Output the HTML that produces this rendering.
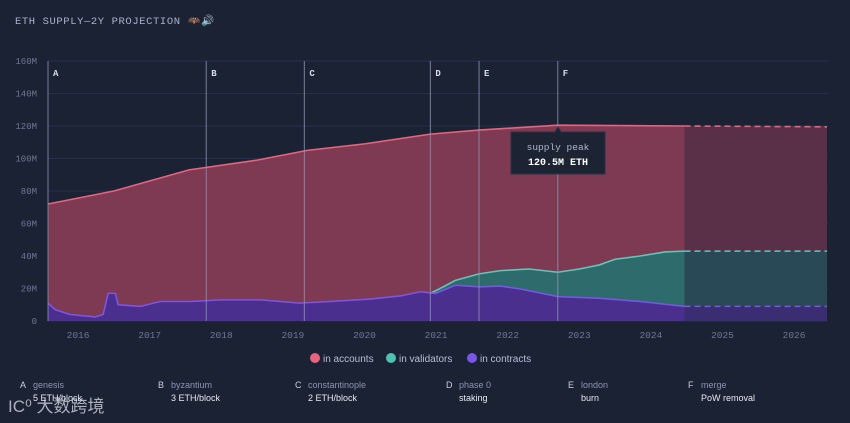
<!DOCTYPE html>
<html><head><meta charset="utf-8"><style>
body{margin:0;background:#1b2233;width:850px;height:423px;overflow:hidden;font-family:"Liberation Sans","Noto Sans CJK SC",sans-serif}
svg{display:block}
.mono{font-family:"Liberation Mono",monospace}
</style></head><body>
<svg id="c" width="850" height="423">
<text x="15" y="24" class="mono" font-size="10.5" fill="#a9b2d0" letter-spacing="0.6">ETH SUPPLY—2Y PROJECTION 🦇🔊</text>
<g id="grid"></g><g id="areas"></g><g id="ev"></g><g id="axes"></g>
<g id="tip">
<path d="M511 132 H555 L558 127 L561 132 H605 V174 H511 Z" fill="#1c2333" stroke="#2a3246"/>
<text x="558" y="150" text-anchor="middle" class="mono" font-size="9.5" fill="#aeb6cc">supply peak</text>
<text x="558" y="165" text-anchor="middle" class="mono" font-size="10" font-weight="bold" fill="#ffffff">120.5M ETH</text>
</g>
<g id="legend" font-size="10" fill="#b7bfd6">
<g><circle cx="315" cy="358" r="5" fill="#e8647e"/><text x="323" y="362">in accounts</text></g>
<g><circle cx="391" cy="358" r="5" fill="#4fc1b1"/><text x="399" y="362">in validators</text></g>
<g><circle cx="472" cy="358" r="5" fill="#7b55e8"/><text x="480" y="362">in contracts</text></g>
</g>
<g id="notes" font-size="9"></g>
<text x="8" y="412" font-size="17" fill="#cfd4df" opacity="0.8">IC⁰ 大数跨境</text>
</svg>
<script>
const yTicks=[0,20,40,60,80,100,120,140,160];
const yearTicks=[2016,2017,2018,2019,2020,2021,2022,2023,2024,2025,2026];
const supplyT=[2015.58,2016.5,2017.55,2018.5,2019.2,2020.0,2020.92,2021.6,2022.7,2024.47];
const supplyV=[72,80,93,99,105,109,115,117.5,120.5,120];
const projSupplyV=[120,119.5];
const valT=[2020.92,2021.1,2021.27,2021.6,2021.9,2022.3,2022.7,2023.0,2023.28,2023.5,2023.85,2024.2,2024.47];
const valV=[17,21,25,29,31,32,30,32,34.5,38,40,42.5,43];
const conT=[2015.58,2015.68,2015.89,2016.24,2016.35,2016.42,2016.52,2016.56,2016.87,2017.15,2017.57,2017.99,2018.55,2019.1,2019.52,2020.08,2020.5,2020.78,2020.99,2021.27,2021.6,2021.9,2022.18,2022.7,2023.28,2023.85,2024.47];
const conV=[11,7,4,2.5,4,17,17,10,9,12,12,13,13,11,12,13.5,15.4,18,17,22,21,21.5,19.7,15,14,12,9];
const projEnd=2026.46, projStart=2024.47;
const evT=[2015.58,2017.79,2019.16,2020.92,2021.6,2022.7];
const evL=['A','B','C','D','E','F'];
const evName=['genesis','byzantium','constantinople','phase 0','london','merge'];
const evDesc=['5 ETH/block','3 ETH/block','2 ETH/block','staking','burn','PoW removal'];
const X=t=>48+(t-2015.58)*71.6, Y=v=>321-v*1.625;
const NS='http://www.w3.org/2000/svg';
function mk(p,tag,a){const e=document.createElementNS(NS,tag);for(const k in a)e.setAttribute(k,a[k]);document.getElementById(p).appendChild(e);return e;}
yTicks.forEach(v=>{
 const l=mk('grid','line',{x1:48,x2:828,y1:Y(v),y2:Y(v),stroke:'#273048','stroke-width':1});
 
 
 const t=mk('axes','text',{x:37,y:Y(v)+3,'text-anchor':'end','font-size':9,fill:'#6f7892',class:'mono'});t.textContent=v?v+'M':'0';
 
 
});
yearTicks.forEach(y=>{const t=mk('axes','text',{x:X(y),y:338,'text-anchor':'middle','font-size':9.5,fill:'#6f7892',class:'mono'});t.textContent=y;
 
 });
function pts(T,V){return T.map((t,i)=>X(t)+','+Y(V[i])).join(' ');}
const base=Y(0);
function area(T,V,fill,name){const p=mk('areas','polygon',{points:X(T[0])+','+base+' '+pts(T,V)+' '+X(T[T.length-1])+','+base,fill});
 
 }
area(supplyT,supplyV,'#7d3a52','accounts-area');
area(valT,valV,'#2d6b6c','validators-area');
area(conT,conV,'#4b2f8e','contracts-area');
// projection
const pr=mk('areas','rect',{x:X(projStart),y:Y(projSupplyV[0]),width:X(projEnd)-X(projStart),height:base-Y(projSupplyV[0]),fill:'#5a3049'});


const pv=mk('areas','rect',{x:X(projStart),y:Y(valV[valV.length-1]),width:X(projEnd)-X(projStart),height:base-Y(valV[valV.length-1]),fill:'#284955'});


const pc=mk('areas','rect',{x:X(projStart),y:Y(conV[conV.length-1]),width:X(projEnd)-X(projStart),height:base-Y(conV[conV.length-1]),fill:'#3a2d72'});


function line(T,V,c,name,dash){const p=mk('areas','polyline',{points:pts(T,V),fill:'none',stroke:c,'stroke-width':1.6});if(dash)p.setAttribute('stroke-dasharray','6 4');
 
 }
line(supplyT,supplyV,'#e8647e','supply-line');
line(valT,valV,'#5fc7b8','validators-line');
line(conT,conV,'#7b55e8','contracts-line');
line([projStart,projEnd],projSupplyV,'#e8647e','supply-projection',1);
line([projStart,projEnd],[valV[valV.length-1],valV[valV.length-1]],'#5fc7b8','validators-projection',1);
line([projStart,projEnd],[conV[conV.length-1],conV[conV.length-1]],'#7b55e8','contracts-projection',1);
const notesX=[20,158,295,446,568,688];
evT.forEach((t,i)=>{
 const l=mk('ev','line',{x1:X(t),x2:X(t),y1:61,y2:321,stroke:'#8d95b4','stroke-width':1,opacity:0.8});
 
 
 const t2=mk('ev','text',{x:X(t)+5,y:76,'font-size':9,'font-weight':'bold',fill:'#d8dcea',class:'mono'});t2.textContent=evL[i];
 
 
 const a=mk('notes','text',{x:notesX[i],y:388,fill:'#c9cfe0'});a.textContent=evL[i];
 
 
 const b=mk('notes','text',{x:notesX[i]+13,y:388,fill:'#8b93b8'});b.textContent=evName[i];
 
 
 const d=mk('notes','text',{x:notesX[i]+13,y:401,fill:'#e6e9f2'});d.textContent=evDesc[i];
 
 
});
</script>
</body></html>
